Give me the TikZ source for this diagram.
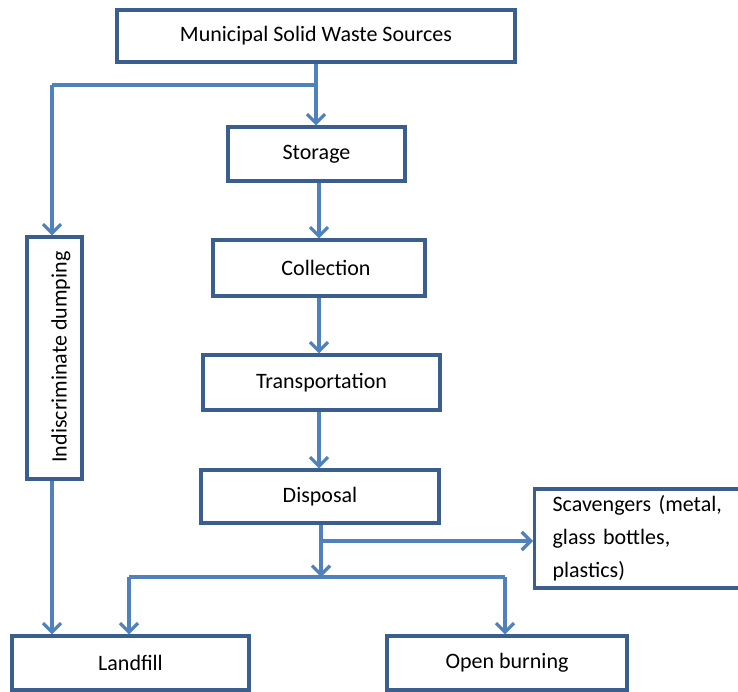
\documentclass[tikz,border=0pt]{standalone}
\usepackage{fontspec}
\setmainfont{Carlito}
\usetikzlibrary{arrows.meta}
\definecolor{boxblue}{HTML}{3A5F8E}
\definecolor{linkblue}{HTML}{4F81BD}
\begin{document}
\begin{tikzpicture}[x=1pt,y=-1pt,
  box/.style={draw=boxblue,line width=3.2pt,fill=white,inner sep=0pt,font=\fontsize{22}{33}\selectfont},
  link/.style={draw=linkblue,line width=3.2pt},
  arr/.style={link,-{Straight Barb[length=9pt,width=18pt,line width=3.2pt]}}]
\clip (0,0) rectangle (738,692);
\fill[white] (0,0) rectangle (738,692);
% nodes
\node[box,minimum width=398pt,minimum height=52pt] (src) at (316,36) {Municipal Solid Waste Sources};
\node[box,minimum width=177pt,minimum height=54pt] (sto) at (316.5,154) {Storage};
\node[box,minimum width=212pt,minimum height=56pt] (col) at (319,268) {\hspace{14pt}Collection};
\node[box,minimum width=237pt,minimum height=55pt] (tra) at (321.5,382.5) {Transportation};
\node[box,minimum width=238pt,minimum height=53pt] (dis) at (320,496.5) {Disposal};
\node[box,minimum width=237pt,minimum height=54pt] (lan) at (130.5,663) {Landfill};
\node[box,minimum width=240pt,minimum height=54pt] (bur) at (507,663) {Open burning};
\node[box,minimum width=55pt,minimum height=242pt] (dum) at (54.5,358) {};
\node[rotate=90,font=\fontsize{22}{33}\selectfont,inner sep=0pt] (dumt) at (61,357) {Indiscriminate dumping};
\node[box,anchor=west,minimum height=99pt,text width=200pt,align=left,inner xsep=18pt] (sca) at (533,538.5)
  {Scavengers (metal,\\glass bottles,\\plastics)};
% coordinates
\coordinate (b1) at (316,85);
\coordinate (b1l) at (52,85);
\coordinate (d1) at (321,541);
\coordinate (d2) at (321,577);
\coordinate (hl) at (129,577);
\coordinate (hr) at (505,577);
% connectors
\draw[arr] (src.south -| b1) -- (sto.north -| b1);
\draw[link] (b1) -- (b1l);
\draw[arr] (b1l) -- (dum.north -| b1l);
\draw[arr] (sto.south -| 319,0) -- (col.north -| 319,0);
\draw[arr] (col.south -| 319,0) -- (tra.north -| 319,0);
\draw[arr] (tra.south -| 319,0) -- (dis.north -| 319,0);
\draw[arr] (dis.south -| d1) -- (d2);
\draw[arr] (d1) -- (sca.west |- d1);
\draw[link] (hl) -- (hr);
\draw[arr] (hl) -- (lan.north -| hl);
\draw[arr] (hr) -- (bur.north -| hr);
\draw[arr] (dum.south -| b1l) -- (lan.north -| b1l);
\end{tikzpicture}
\end{document}
